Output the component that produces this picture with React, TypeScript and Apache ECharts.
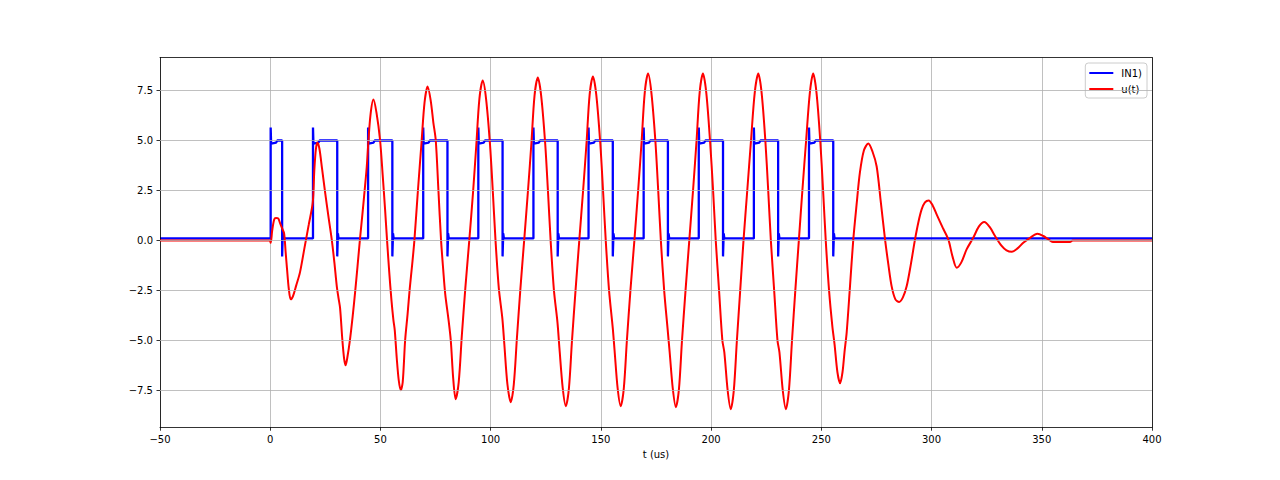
import React, { useEffect, useRef } from "react";
import * as echarts from "echarts";

// ---- data ----
const xTicks = [-50, 0, 50, 100, 150, 200, 250, 300, 350, 400];
const yTicks = [-7.5, -5.0, -2.5, 0.0, 2.5, 5.0, 7.5];

// IN1) square-wave edges (t in us) and levels
const riseTimes = [0.2, 19.4, 44.4, 69.4, 94.4, 119.4, 144.4, 169.4, 194.4, 219.4, 244.4];
const fallTimes = [5.4, 30.4, 55.4, 80.4, 105.4, 130.4, 155.4, 180.4, 205.4, 230.4, 255.4];
const lowLevel = 0.1;
const riseSpike = 5.65;
const highStart = 4.85;
const highEnd = 5.0;
const fallSpike = -0.8;
const afterSpike = 0.35;

// u(t) samples [t, value]
const uCurve: [number, number][] = [
  [-50, 0.0], [-0.3, 0.0], [0.2, -0.12], [0.9, 0.5], [1.8, 1.05], [2.6, 1.12], [3.6, 1.1],
  [4.5, 0.85], [5.4, 0.6], [6.3, 0.35], [7.0, -0.6], [7.6, -1.4], [8.4, -2.4], [9.3, -2.95],
  [10.3, -2.8], [11.8, -2.25], [13.5, -1.6], [15.5, -0.4], [17.5, 0.8], [19.3, 1.9], [20.0, 3.5],
  [20.7, 4.55], [21.4, 4.9], [22.3, 4.6], [23.5, 3.6], [24.9, 2.4], [26.4, 1.2], [27.9, 0.05],
  [29.1, -1.1], [30.2, -2.3], [31.0, -2.9], [31.7, -3.4], [32.7, -4.95], [33.5, -5.9], [34.2, -6.25],
  [35.0, -5.85], [36.2, -4.95], [37.4, -3.8], [38.5, -2.6], [39.6, -1.3], [40.7, 0.05], [41.9, 1.4],
  [43.0, 2.7], [43.8, 3.7], [44.5, 4.9], [45.5, 6.3], [46.8, 7.05], [48.2, 6.4], [49.8, 5.05],
  [51.0, 3.3], [52.1, 1.55], [53.0, 0.0], [54.0, -1.6], [55.0, -3.0], [55.9, -4.0], [56.5, -4.5],
  [57.4, -5.9], [58.3, -7.0], [59.2, -7.5],
  [60.1, -7.1], [61.2, -5.0], [62.3, -3.7], [63.3, -2.4], [64.4, -1.2], [65.4, 0], [67.0, 2.5],
  [68.7, 5.0], [70.0, 6.9], [71.4, 7.7], [72.8, 7.0], [74.0, 5.9], [75.1, 5.0], [76.3, 2.5],
  [77.5, 0], [78.5, -1.5], [79.4, -2.7], [80.8, -3.9], [81.9, -5.0], [83.0, -6.9], [84.1, -7.95],
  [85.5, -7.1], [86.9, -4.8], [88.5, -2.4], [90.3, 0], [92.0, 2.4], [93.5, 4.8], [94.9, 7.1],
  [96.4, 8.0], [97.9, 7.1], [99.7, 4.8], [101.0, 2.4], [102.2, 0], [103.7, -2.4], [105.3, -3.9],
  [106.2, -5.2], [107.6, -7.2], [109.1, -8.1],
  [110.5, -7.2], [111.9, -4.9], [113.5, -2.4], [115.2, 0], [116.9, 2.45], [118.5, 4.9], [119.9, 7.25],
  [121.4, 8.15], [122.9, 7.25], [124.7, 4.9], [126.0, 2.45], [127.2, 0], [128.7, -2.5], [130.3, -4.1],
  [131.2, -5.4], [132.7, -7.4], [134.1, -8.3],
  [135.5, -7.4], [136.9, -5.0], [138.5, -2.5], [140.2, 0], [141.9, 2.45], [143.5, 4.9], [144.9, 7.3],
  [146.4, 8.2], [147.9, 7.3], [149.7, 4.9], [151.0, 2.45], [152.2, 0], [153.7, -2.5], [155.4, -4.4],
  [156.2, -5.5], [157.6, -7.4], [159.0, -8.3],
  [160.4, -7.4], [161.8, -5.0], [163.4, -2.5], [165.2, 0], [166.9, 2.5], [168.5, 5.0], [169.9, 7.4],
  [171.4, 8.35], [172.9, 7.4], [174.7, 5.0], [176.0, 2.5], [177.2, 0], [178.7, -2.5], [180.4, -4.6],
  [181.2, -5.6], [182.6, -7.4], [184.0, -8.35],
  [185.4, -7.45], [186.8, -5.0], [188.4, -2.5], [190.1, 0], [191.8, 2.5], [193.4, 5.0], [194.8, 7.4],
  [196.3, 8.35], [197.8, 7.4], [199.5, 5.0], [200.9, 2.5], [202.1, 0], [203.6, -2.5], [205.1, -5.0],
  [206.0, -5.6], [207.5, -7.5], [208.9, -8.45],
  [210.3, -7.5], [211.7, -5.0], [213.2, -2.5], [214.7, 0], [216.4, 2.5], [218.1, 5.0], [219.8, 7.4],
  [221.4, 8.35], [222.9, 7.4], [224.6, 5.0], [225.9, 2.5], [227.1, 0], [228.6, -2.5], [230.1, -5.0],
  [231.0, -5.6], [232.5, -7.5], [233.9, -8.45],
  [235.3, -7.5], [236.7, -5.0], [238.2, -2.5], [239.8, 0], [241.4, 2.5], [243.1, 5.0], [244.8, 7.4],
  [246.3, 8.35], [247.8, 7.4], [249.5, 5.0], [250.8, 2.5], [252.0, 0], [253.5, -2.5], [255.0, -4.3],
  [256.0, -5.2], [257.3, -6.6], [258.5, -7.15],
  [259.6, -6.6], [260.5, -5.6], [261.5, -4.6], [263.0, -2.3], [264.5, 0.05], [266.0, 1.8], [267.5, 3.4],
  [269.3, 4.5], [271.3, 4.85], [273.2, 4.45], [275.1, 3.7], [277.0, 1.9], [278.9, 0.05], [280.4, -1.2],
  [281.9, -2.3], [283.6, -2.95], [285.3, -3.08], [287.0, -2.85], [288.7, -2.3], [290.6, -1.2],
  [292.5, 0.05], [294.0, 0.9], [295.5, 1.55], [297.0, 1.9], [298.7, 2.0], [300.5, 1.75], [302.5, 1.25],
  [305.0, 0.65], [307.6, 0.05], [309.5, -0.8], [311.4, -1.37], [313.5, -1.1], [315.9, -0.45],
  [318.9, 0.13], [321.5, 0.7], [323.9, 0.92], [326.5, 0.65], [328.8, 0.22], [331.8, -0.28],
  [334.0, -0.5], [336.4, -0.57], [339.0, -0.4], [341.6, -0.12], [344.7, 0.13], [348.0, 0.33],
  [350.7, 0.22], [353.0, 0.05], [355.0, -0.08], [362.8, -0.08], [364.0, 0.0], [400, 0.0],
];

// build the step waveform table from the read edges
function buildIn1(): [number, number][] {
  const pts: [number, number][] = [[-50, lowLevel]];
  for (let i = 0; i < riseTimes.length; i++) {
    const r = riseTimes[i];
    const f = fallTimes[i];
    pts.push([r, lowLevel], [r, riseSpike], [r + 0.2, highStart], [r + 2.5, highStart + 0.05],
      [r + 3.0, highEnd], [f, highEnd], [f, fallSpike], [f + 0.3, afterSpike], [f + 0.6, lowLevel]);
  }
  pts.push([400, lowLevel]);
  return pts;
}

const fmt = (v: number, digits: number) => {
  const s = Math.abs(v).toFixed(digits);
  return v < 0 ? "\u2212" + s : s;
};

const FONT = "DejaVu Sans";

export default function App() {
  const ref = useRef<HTMLDivElement>(null);
  useEffect(() => {
    if (!ref.current) return;
    const chart = echarts.init(ref.current, undefined, { renderer: "svg" });
    const black = { color: "#000000", width: 0.8 };
    const option = {
      animation: false,
      backgroundColor: "#ffffff",
      textStyle: { fontFamily: FONT },
      grid: { left: 160, top: 57.6, width: 992, height: 369.6, containLabel: false },
      legend: {
        data: ["IN1)", "u(t)"],
        orient: "vertical",
        right: 133,
        top: 63,
        icon: "rect",
        itemWidth: 24,
        itemHeight: 2,
        itemGap: 4,
        padding: [4, 5, 3, 4],
        backgroundColor: "rgba(255,255,255,0.8)",
        borderColor: "#cccccc",
        borderWidth: 1,
        borderRadius: 3,
        selectedMode: false,
        textStyle: { fontSize: 10, color: "#000000", fontFamily: FONT, lineHeight: 12, padding: [0, 0, 0, 3] },
      },
      xAxis: [
        {
          type: "value",
          min: xTicks[0],
          max: xTicks[xTicks.length - 1],
          interval: 50,
          name: "t (us)",
          nameLocation: "middle",
          nameGap: 22,
          nameTextStyle: { fontSize: 10, color: "#000000", fontFamily: FONT },
          axisLine: { show: true, onZero: false, lineStyle: black },
          axisTick: { show: true, inside: false, length: 3.5, lineStyle: black },
          axisLabel: { margin: 7, fontSize: 10, color: "#000000", fontFamily: FONT, formatter: (v: number) => fmt(v, 0) },
          splitLine: { show: true, lineStyle: { color: "#b0b0b0", width: 0.8 } },
        },
        {
          type: "value",
          position: "top",
          min: xTicks[0],
          max: xTicks[xTicks.length - 1],
          z: 3,
          axisLine: { show: true, onZero: false, lineStyle: black },
          axisTick: { show: false },
          axisLabel: { show: false },
          splitLine: { show: false },
        },
      ],
      yAxis: [
        {
          type: "value",
          min: -9.35,
          max: 9.15,
          z: 3,
          axisLine: { show: true, onZero: false, lineStyle: black },
          axisTick: { show: true, inside: false, length: 3.5, lineStyle: black, customValues: yTicks },
          axisLabel: {
            margin: 7, fontSize: 10, color: "#000000", fontFamily: FONT, customValues: yTicks,
            formatter: (v: number) => fmt(v, 1),
          },
          splitLine: { show: false },
        },
        {
          type: "value",
          position: "right",
          min: -9.35,
          max: 9.15,
          z: 3,
          axisLine: { show: true, onZero: false, lineStyle: black },
          axisTick: { show: false },
          axisLabel: { show: false },
          splitLine: { show: false },
        },
      ],
      series: [
        {
          name: "grid",
          type: "line",
          data: [[xTicks[0], 0]],
          symbol: "none",
          lineStyle: { opacity: 0 },
          silent: true,
          z: 1,
          markLine: {
            silent: true,
            symbol: ["none", "none"],
            label: { show: false },
            lineStyle: { color: "#b0b0b0", width: 0.8, type: "solid" },
            emphasis: { disabled: true },
            data: yTicks.map((v) => ({ yAxis: v })),
          },
        },
        {
          name: "IN1)",
          type: "line",
          data: buildIn1(),
          symbol: "none",
          showSymbol: false,
          lineStyle: { color: "#0000ff", width: 2.3 },
          itemStyle: { color: "#0000ff" },
          z: 2,
        },
        {
          name: "u(t)",
          type: "line",
          data: uCurve,
          symbol: "none",
          showSymbol: false,
          smooth: 0.3,
          lineStyle: { color: "#ff0000", width: 2 },
          itemStyle: { color: "#ff0000" },
          z: 3,
        },
      ],
    };
    chart.setOption(option as any);
    return () => chart.dispose();
  }, []);
  return <div ref={ref} style={{ position: "absolute", left: 0, top: 0, width: 1280, height: 480 }} />;
}
